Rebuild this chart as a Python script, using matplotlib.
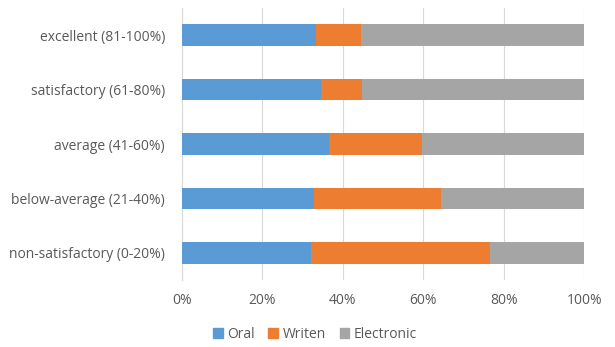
import matplotlib
matplotlib.use("Agg")
import matplotlib.pyplot as plt
from matplotlib.ticker import PercentFormatter
from matplotlib.patches import Patch

categories = ["non-satisfactory (0-20%)", "below-average (21-40%)", "average (41-60%)",
              "satisfactory (61-80%)", "excellent (81-100%)"]
oral = [32.2, 32.8, 36.5, 34.5, 33.3]
written = [44.4, 31.6, 23.2, 10.4, 11.2]
electronic = [100 - o - w for o, w in zip(oral, written)]
series_names = ["Oral", "Writen", "Electronic"]
colors = ["#5B9BD5", "#ED7D31", "#A5A5A5"]

plt.rcParams['font.family'] = ['Open Sans', 'DejaVu Sans']
text_color = "#595959"

fig = plt.figure(figsize=(6.15, 3.47), dpi=100)
ax = fig.add_axes([0.2955, 0.193, 0.6545, 0.784])

y = range(len(categories))
left = [0] * len(categories)
for vals, name, c in zip([oral, written, electronic], series_names, colors):
    ax.barh(y, vals, left=left, height=0.4, color=c, label=name, zorder=3)
    left = [l + v for l, v in zip(left, vals)]

ax.set_xlim(0, 100)
ax.set_ylim(-0.5, len(categories) - 0.5)
ax.set_xticks([0, 20, 40, 60, 80, 100])
ax.xaxis.set_major_formatter(PercentFormatter(decimals=0))
ax.set_yticks(list(y))
ax.set_yticklabels(categories)
ax.grid(axis='x', color="#D9D9D9", linewidth=0.8, zorder=0)
for s in ["top", "right", "bottom"]:
    ax.spines[s].set_visible(False)
ax.spines["left"].set_color("#D9D9D9")
ax.tick_params(axis='both', length=0, colors=text_color, labelsize=10)
ax.tick_params(axis='x', pad=9)
ax.tick_params(axis='y', pad=12)

handles = [Patch(color=c, label=n) for c, n in zip(colors, series_names)]
fig.legend(handles=handles, loc='center', bbox_to_anchor=(0.512, 0.037), ncol=3, frameon=False,
           fontsize=10, labelcolor=text_color, handlelength=0.7, handleheight=0.7,
           handletextpad=0.3, columnspacing=1.0)

fig.savefig("out.png", dpi=100)
